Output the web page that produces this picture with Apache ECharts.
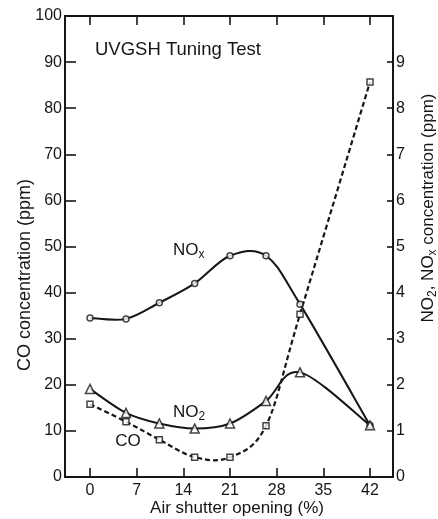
<!DOCTYPE html>
<html>
<head>
<meta charset="utf-8">
<script src="https://cdn.jsdelivr.net/npm/echarts@6/dist/echarts.min.js"></script>
<style>
  html, body { margin: 0; padding: 0; background: #ffffff; }
  #chart { width: 438px; height: 519px; }
</style>
</head>
<body>
<div id="chart"></div>
<script>
// Air shutter opening (%) at each measurement
const shutter = [0, 5.4, 10.4, 15.7, 21, 26.4, 31.5, 42];
// CO concentration (ppm), left axis
const coPpm = [15.8, 12.0, 8.1, 4.3, 4.3, 11.1, 35.3, 85.7];
// NO2 concentration (ppm), right axis
const no2Ppm = [1.91, 1.39, 1.16, 1.05, 1.16, 1.65, 2.27, 1.12];
// NOx concentration (ppm), right axis
const noxPpm = [3.45, 3.43, 3.78, 4.2, 4.8, 4.8, 3.75, 1.12];

// Tick positions
const xTicks = [0, 7, 14, 21, 28, 35, 42];
const leftTicks = [0, 10, 20, 30, 40, 50, 60, 70, 80, 90, 100];
const rightTicks = [0, 1, 2, 3, 4, 5, 6, 7, 8, 9];

const INK = '#161616';
const FONT = '"Liberation Sans", Arial, sans-serif';

const pairs = (xs, ys) => xs.map((x, i) => [x, ys[i]]);

// Hand-drawn style curve: a Catmull-Rom spline through the pixel positions
// of every measured point, built once (on the first item) from api.coord.
function splineRenderer(xs, ys, lineStyle) {
  return function (params, api) {
    if (params.dataIndex !== 0) return null;
    const p = xs.map((x, i) => api.coord([x, ys[i]]));
    const n = p.length;
    let d = 'M' + p[0][0] + ' ' + p[0][1];
    for (let i = 0; i < n - 1; i++) {
      const p0 = p[Math.max(i - 1, 0)];
      const p1 = p[i];
      const p2 = p[i + 1];
      const p3 = p[Math.min(i + 2, n - 1)];
      const c1x = p1[0] + (p2[0] - p0[0]) / 6;
      const c1y = p1[1] + (p2[1] - p0[1]) / 6;
      const c2x = p2[0] - (p3[0] - p1[0]) / 6;
      const c2y = p2[1] - (p3[1] - p1[1]) / 6;
      d += ' C' + c1x + ' ' + c1y + ' ' + c2x + ' ' + c2y + ' ' + p2[0] + ' ' + p2[1];
    }
    return {
      type: 'path',
      shape: { pathData: d },
      style: Object.assign({ fill: 'none', stroke: INK }, lineStyle)
    };
  };
}

const chart = echarts.init(document.getElementById('chart'), null, { renderer: 'canvas' });

const axisLine = { show: true, onZero: false, lineStyle: { color: INK, width: 2 } };
const tickStyle = { color: INK, width: 1.6 };
const labelStyle = { color: INK, fontSize: 16, fontFamily: FONT };
const markerStyle = { color: '#ffffff', borderColor: INK, borderWidth: 1.5 };

function curveSeries(name, yAxisIndex, ys, lineStyle) {
  return {
    name: name, type: 'custom', xAxisIndex: 0, yAxisIndex: yAxisIndex,
    data: pairs(shutter, ys), encode: { x: 0, y: 1 },
    renderItem: splineRenderer(shutter, ys, lineStyle),
    silent: true, z: 2
  };
}
function markerSeries(name, yAxisIndex, ys, symbol, size) {
  return {
    name: name, type: 'scatter', xAxisIndex: 0, yAxisIndex: yAxisIndex,
    data: pairs(shutter, ys), symbol: symbol, symbolSize: size,
    itemStyle: markerStyle, emphasis: { disabled: true }, silent: true, z: 3
  };
}

const nameRich = {
  m: { fill: INK, fontSize: 17, fontFamily: FONT, lineHeight: 22, verticalAlign: 'middle' },
  s: { fill: INK, fontSize: 12, fontFamily: FONT, lineHeight: 12, verticalAlign: 'bottom' }
};

chart.setOption({
  animation: false,
  backgroundColor: '#ffffff',
  grid: { left: 65, right: 45, top: 16, bottom: 42 },
  xAxis: [
    {
      type: 'value', position: 'bottom', min: -3.75, max: 45.45,
      axisLine: axisLine,
      axisTick: { show: true, inside: true, length: 9, customValues: xTicks, lineStyle: tickStyle },
      axisLabel: Object.assign({ customValues: xTicks, margin: 6 }, labelStyle),
      splitLine: { show: false }
    },
    {
      type: 'value', position: 'top', min: -3.75, max: 45.45,
      axisLine: axisLine,
      axisTick: { show: true, inside: true, length: 9, customValues: xTicks, lineStyle: tickStyle },
      axisLabel: { show: false },
      splitLine: { show: false }
    }
  ],
  yAxis: [
    {
      type: 'value', position: 'left', min: 0, max: 100, interval: 10,
      axisLine: axisLine,
      axisTick: { show: true, inside: true, length: 11, customValues: leftTicks, lineStyle: tickStyle },
      axisLabel: Object.assign({ customValues: leftTicks, margin: 3 }, labelStyle),
      splitLine: { show: false }
    },
    {
      type: 'value', position: 'right', min: 0, max: 10, interval: 1,
      axisLine: axisLine,
      axisTick: { show: true, inside: true, length: 6, customValues: rightTicks, lineStyle: tickStyle },
      axisLabel: Object.assign({ customValues: rightTicks, margin: 3 }, labelStyle),
      splitLine: { show: false }
    }
  ],
  series: [
    curveSeries('NOx', 1, noxPpm, { lineWidth: 2 }),
    curveSeries('NO2', 1, no2Ppm, { lineWidth: 2 }),
    curveSeries('CO', 0, coPpm, { lineWidth: 2.2, lineDash: [5, 3] }),
    markerSeries('NOx', 1, noxPpm, 'circle', 6),
    markerSeries('NO2', 1, no2Ppm, 'triangle', 9),
    markerSeries('CO', 0, coPpm, 'rect', 6)
  ],
  graphic: [
    {
      type: 'text', x: 95, y: 50,
      style: { text: 'UVGSH Tuning Test', fill: INK, font: '18.5px ' + FONT, align: 'left', verticalAlign: 'middle' }
    },
    {
      type: 'text', x: 173, y: 250,
      style: { text: '{m|NO}{s|x}', align: 'left', verticalAlign: 'middle', rich: nameRich }
    },
    {
      type: 'text', x: 173, y: 412,
      style: { text: '{m|NO}{s|2}', align: 'left', verticalAlign: 'middle', rich: nameRich }
    },
    {
      type: 'text', x: 128, y: 441,
      style: { text: 'CO', fill: INK, font: '17px ' + FONT, align: 'center', verticalAlign: 'middle' }
    },
    {
      type: 'text', x: 25, y: 275, rotation: Math.PI / 2,
      style: { text: 'CO concentration (ppm)', fill: INK, font: '18px ' + FONT, align: 'center', verticalAlign: 'middle' }
    },
    {
      type: 'text', x: 428, y: 208, rotation: Math.PI / 2,
      style: { text: '{m|NO}{s|2}{m|, NO}{s|x}{m| concentration (ppm)}', align: 'center', verticalAlign: 'middle', rich: nameRich }
    },
    {
      type: 'text', x: 237, y: 508,
      style: { text: 'Air shutter opening (%)', fill: INK, font: '17px ' + FONT, align: 'center', verticalAlign: 'middle' }
    }
  ]
});
</script>
</body>
</html>
